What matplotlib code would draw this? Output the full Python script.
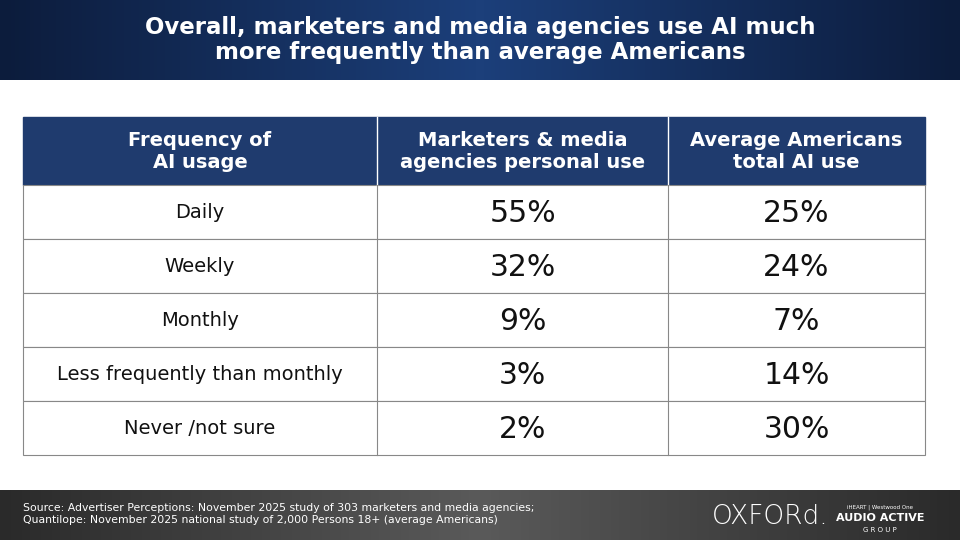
import numpy as np
import matplotlib.pyplot as plt
from matplotlib.patches import Rectangle
from matplotlib.colors import LinearSegmentedColormap

plt.rcParams['font.family'] = ['DejaVu Sans']

# Table data
headers = ['Frequency of\nAI usage', 'Marketers & media\nagencies personal use', 'Average Americans\ntotal AI use']
rows = ['Daily', 'Weekly', 'Monthly', 'Less frequently than monthly', 'Never /not sure']
marketers = [55, 32, 9, 3, 2]
americans = [25, 24, 7, 14, 30]

W, H = 960, 540
fig = plt.figure(figsize=(9.6, 5.4), dpi=100)
ax = fig.add_axes([0, 0, 1, 1])
ax.axis('off')

# title banner with gradient
grad = np.linspace(0, 1, 256).reshape(1, -1)
ax.imshow(np.abs(grad - 0.5) * 2, extent=[0, W, 80, 0], aspect='auto',
          cmap=LinearSegmentedColormap.from_list('b', ['#1c3f7a', '#0c1c3c']))
ax.text(W / 2, 40, 'Overall, marketers and media agencies use AI much\nmore frequently than average Americans',
        ha='center', va='center', color='white', fontsize=16.5, fontweight='bold', linespacing=1.15)

# footer
ax.imshow(grad, extent=[0, W, 540, 490], aspect='auto',
          cmap=LinearSegmentedColormap.from_list('g', ['#2a2a2a', '#5a5a5a', '#2a2a2a']))
ax.text(23, 514, 'Source: Advertiser Perceptions: November 2025 study of 303 marketers and media agencies;\n'
        'Quantilope: November 2025 national study of 2,000 Persons 18+ (average Americans)',
        ha='left', va='center', color='white', fontsize=7.8, linespacing=1.25)
ax.text(712, 516, 'OXFORd.', ha='left', va='center', color='white', fontsize=19, fontweight='light')
ax.text(880, 507, 'iHEART | Westwood One', ha='center', va='center', color='white', fontsize=4)
ax.text(880, 518, 'AUDIO ACTIVE', ha='center', va='center', color='white', fontsize=8, fontweight='bold')
ax.text(880, 530, 'G R O U P', ha='center', va='center', color='white', fontsize=5)

ax.set_xlim(0, W)
ax.set_ylim(H, 0)

# table
xs = [23, 377, 668, 925]
y0, hh, rh = 117, 68, 54
navy = '#1f3b6e'
ax.add_patch(Rectangle((xs[0], y0), xs[-1] - xs[0], hh, color=navy, zorder=2))
for i, h in enumerate(headers):
    ax.text((xs[i] + xs[i + 1]) / 2, y0 + hh / 2, h, ha='center', va='center', color='white',
            fontsize=14, fontweight='bold', linespacing=1.2, zorder=3)
for i in range(1, 3):
    ax.plot([xs[i], xs[i]], [y0, y0 + hh], color='white', lw=1, zorder=3)

for r, (lab, m, a) in enumerate(zip(rows, marketers, americans)):
    top = y0 + hh + r * rh
    ax.add_patch(Rectangle((xs[0], top), xs[-1] - xs[0], rh, facecolor='white',
                           edgecolor='#888888', lw=0.8, zorder=2))
    yc = top + rh / 2
    ax.text((xs[0] + xs[1]) / 2, yc, lab, ha='center', va='center', fontsize=14, color='#111111', zorder=3)
    ax.text((xs[1] + xs[2]) / 2, yc + 2, f'{m}%', ha='center', va='center', fontsize=21.5, color='#111111', zorder=3)
    ax.text((xs[2] + xs[3]) / 2, yc + 2, f'{a}%', ha='center', va='center', fontsize=21.5, color='#111111', zorder=3)
bottom = y0 + hh + len(rows) * rh
for i in range(1, 3):
    ax.plot([xs[i], xs[i]], [y0 + hh, bottom], color='#888888', lw=0.8, zorder=3)

fig.savefig('out.png', dpi=100)
